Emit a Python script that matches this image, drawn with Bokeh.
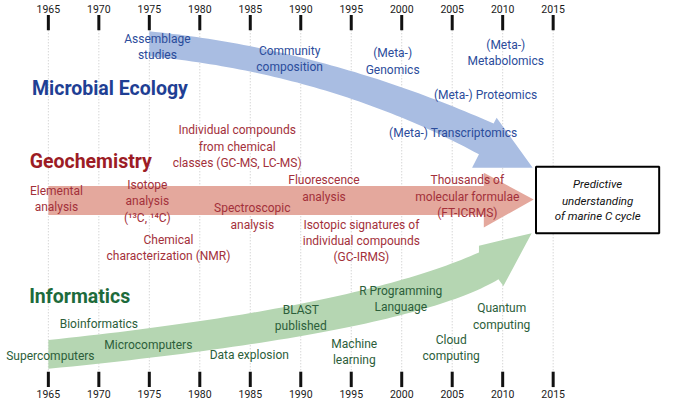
import numpy as np
from bokeh.plotting import figure
from bokeh.models import Range1d
from bokeh.core.properties import value
from bokeh.embed import file_html
from bokeh.resources import INLINE

FONT = "Roboto"

# ---------------- data ----------------
tick_years = [1965, 1970, 1975, 1980, 1985, 1990, 1995, 2000, 2005, 2010, 2015]
tick_labels = [str(y) for y in tick_years]

titles = ["Microbial Ecology", "Geochemistry", "Informatics"]
title_years = [1971.1, 1969.2, 1968.1]

eco_years = [1975.8, 1988.9, 1999.1, 2010.3, 2008.3, 2005.1]
eco_lines = [["Assemblage", "studies"], ["Community", "composition"],
             ["(Meta-)", "Genomics"], ["(Meta-)", "Metabolomics"],
             ["(Meta-) Proteomics"], ["(Meta-) Transcriptomics"]]

geo_years = [1983.7, 1965.8, 1974.8, 1976.9, 1985.2, 1992.3, 1996.0, 2006.5]
geo_lines = [["Individual compounds", "from chemical", "classes (GC-MS, LC-MS)"],
             ["Elemental", "analysis"],
             ["Isotope", "analysis", "(\u00b9\u00b3C, \u00b9\u2074C)"],
             ["Chemical", "characterization (NMR)"],
             ["Spectroscopic", "analysis"],
             ["Fluorescence", "analysis"],
             ["Isotopic signatures of", "individual compounds", "(GC-IRMS)"],
             ["Thousands of", "molecular formulae", "(FT-ICRMS)"]]

info_years = [1970.0, 1974.9, 1965.2, 1984.9, 1990.0, 1995.3, 1999.9, 2004.9, 2009.9]
info_lines = [["Bioinformatics"], ["Microcomputers"], ["Supercomputers"],
              ["Data explosion"], ["BLAST", "published"], ["Machine", "learning"],
              ["R Programming", "Language"], ["Cloud", "computing"],
              ["Quantum", "computing"]]

goal_years = [2013.3, 2025.5]
goal_lines = ["Predictive", "understanding", "of marine C cycle"]

# arrow control points (year, level)
blue_upper = [(1975.0, 32), (1992.3, 50), (2009.1, 128)]
blue_lower = [(1975.0, 58), (1993.0, 76.6), (2007.65, 160)]
blue_head = [(2009.4, 122), (2012.97, 174), (2006.97, 174)]

red_upper = [(1965.0, 193), (2008.13, 193)]
red_lower = [(1965.0, 223), (2008.13, 223)]
red_head = [(2008.13, 179), (2013.07, 207), (2008.13, 236)]

green_upper = [(1965.0, 353), (1995.15, 320.2), (2007.65, 262)]
green_lower = [(1965.0, 383), (2000.53, 346.2), (2009.58, 290)]
green_head = [(2007.65, 255), (2012.87, 242), (2010.07, 297)]

# ---------------- layout ----------------
eco_rows = [40, 52, 55, 46, 98, 138]
geo_rows = [135, 198, 192, 249, 216, 187, 233, 187]
info_rows = [336, 358, 370, 369, 322, 357, 302, 353, 320]
title_rows = [92, 167, 308]
goal_rows = [191, 208, 224]
LINE = 17

p = figure(width=661, height=401, x_range=Range1d(1960.26, 2025.73),
           y_range=Range1d(417, 0), toolbar_location=None, output_backend="svg",
           x_axis_type=None, y_axis_type=None, min_border=0)
p.grid.visible = False
p.outline_line_color = None
p.background_fill_color = "white"

# grid and ticks
p.segment(x0=tick_years, y0=31, x1=tick_years, y1=386, line_color="#c4c4c4",
          line_width=1, line_dash="1 2")
p.segment(x0=tick_years, y0=15, x1=tick_years, y1=31, line_color="#111111", line_width=3)
p.segment(x0=tick_years, y0=386, x1=tick_years, y1=402, line_color="#111111", line_width=3)
for yy in (8.5, 409):
    p.text(x=tick_years, y=[yy] * len(tick_years), text=tick_labels,
           text_align="center", text_baseline="middle", text_font=value(FONT),
           text_font_size="10.5px", text_color="#1a1a1a")


def qbez(pts, n=60):
    t = np.linspace(0, 1, n)[:, None]
    a, b, c = (np.array(q, dtype=float) for q in pts)
    P = (1 - t) ** 2 * a + 2 * t * (1 - t) * b + t ** 2 * c
    return list(P[:, 0]), list(P[:, 1])


def arrow(upper, lower, head, color):
    if len(upper) == 3:
        ux, uy = qbez(upper)
        lx, ly = qbez(lower)
    else:
        ux, uy = [q[0] for q in upper], [q[1] for q in upper]
        lx, ly = [q[0] for q in lower], [q[1] for q in lower]
    xs = ux + [h[0] for h in head] + lx[::-1]
    ys = uy + [h[1] for h in head] + ly[::-1]
    p.patch(xs, ys, fill_color=color, line_color=None)


arrow(blue_upper, blue_lower, blue_head, "#a9bde2")
arrow(red_upper, red_lower, red_head, "#e4a89d")
arrow(green_upper, green_lower, green_head, "#b5d6b2")


def labels(years, lines, rows, color, size="12px", style="normal"):
    xs, ys, ts = [], [], []
    for yr, ls, r in zip(years, lines, rows):
        for i, t in enumerate(ls):
            xs.append(yr)
            ys.append(r + i * LINE)
            ts.append(t)
    p.text(x=xs, y=ys, text=ts, text_align="center", text_baseline="middle",
           text_font=value(FONT), text_font_size=size, text_color=color,
           text_font_style=style)


labels(eco_years, eco_lines, eco_rows, "#2b4c9b")
labels(geo_years, geo_lines, geo_rows, "#a3303a")
labels(info_years, info_lines, info_rows, "#2c5e3a")

p.text(x=title_years, y=title_rows, text=titles, text_align="center",
       text_baseline="middle", text_font=value(FONT), text_font_size="19.5px",
       text_font_style="bold", text_color=["#1f3f94", "#9c1c25", "#1d6b3b"])

# goal box
p.quad(left=goal_years[0], right=goal_years[1], top=173, bottom=242,
       fill_color="white", line_color="#000000", line_width=2)
gx = (goal_years[0] + goal_years[1]) / 2
p.text(x=[gx] * 3, y=goal_rows, text=goal_lines, text_align="center",
       text_baseline="middle", text_font=value(FONT), text_font_size="11.5px",
       text_font_style="italic", text_color="#111111")

open("out.html", "w").write(file_html(p, INLINE))
